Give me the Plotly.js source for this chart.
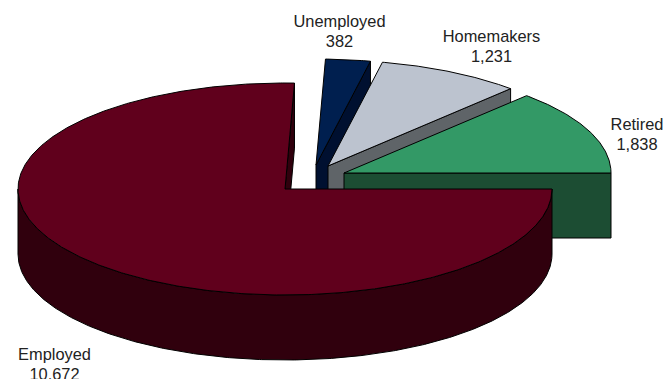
<!DOCTYPE html>
<html>
<head>
<meta charset="utf-8">
<script src="https://cdn.plot.ly/plotly-3.0.1.min.js"></script>
<style>html,body{margin:0;padding:0;background:#fff;overflow:hidden}</style>
</head>
<body>
<div id="chart" style="width:664px;height:379px"></div>
<script>
// Population by status
const categories = ["Employed", "Unemployed", "Homemakers", "Retired"];
const values = [10672, 382, 1231, 1838];
const topColors = ["#60001c", "#001f4f", "#bcc3cf", "#339966"];
const sideColors = ["#30000d", "#001030", "#5f6468", "#1c4d33"];

// Projection of the tilted disc, in plot units
const centre = {x: 285, y: 189};
const radiusX = 267, radiusY = 106, depth = 65;
const startAngle = 90;
// Explode offset of each slice
const pullX = [0, 31, 43, 59];
const pullY = [0, -24, -23, -16];
// Label anchors: name line then value line
const labelX = [54.5, 339.5, 491.5, 637];
const labelY = [355.5, 23, 38, 126];
const labelGap = 20;

const total = values.reduce((a, b) => a + b, 0);
const rad = d => d * Math.PI / 180;
const rim = (c, a, drop) => [c.x + radiusX * Math.sin(rad(a)), c.y - radiusY * Math.cos(rad(a)) + drop];
const arc = (c, a0, a1, drop) => {
  const n = Math.max(2, Math.ceil(Math.abs(a1 - a0) * 2));
  const pts = [];
  for (let i = 0; i <= n; i++) pts.push(rim(c, a0 + (a1 - a0) * i / n, drop));
  return pts;
};
const poly = (pts, color) => ({
  type: "scatter", mode: "lines", fill: "toself", fillcolor: color,
  x: pts.map(p => p[0]).concat(pts[0][0]),
  y: pts.map(p => p[1]).concat(pts[0][1]),
  line: {color: "#000", width: 1, shape: "linear"},
  hoverinfo: "skip", showlegend: false
});

// Work out each slice's angular span from its share of the total
let cursor = startAngle;
const slices = values.map((v, i) => {
  const a0 = cursor, a1 = cursor + v / total * 360;
  cursor = a1;
  return {i, a0, a1, c: {x: centre.x + pullX[i], y: centre.y + pullY[i]}};
});

// Painted back to front: the large slice overlaps the others
const traces = [];
[1, 2, 3, 0].forEach(k => {
  const s = slices[k];
  const apex = [s.c.x, s.c.y];
  const outer = rim(s.c, s.a1, 0);
  // Cut face at the end of the slice
  traces.push(poly([apex, outer, [outer[0], outer[1] + depth], [apex[0], apex[1] + depth]], sideColors[k]));
  // Outer wall, only where it faces the viewer
  const w0 = Math.max(s.a0, 90), w1 = Math.min(s.a1, 270);
  if (w1 > w0) {
    traces.push(poly(arc(s.c, w0, w1, 0).concat(arc(s.c, w1, w0, depth)), sideColors[k]));
  }
  // Top face
  traces.push(poly([apex].concat(arc(s.c, s.a0, s.a1, 0)), topColors[k]));
});

// Labels
const fmt = v => v.toLocaleString("en-US");
traces.push({
  type: "scatter", mode: "text",
  x: labelX.concat(labelX),
  y: labelY.concat(labelY.map(y => y + labelGap)),
  text: categories.concat(values.map(fmt)),
  textposition: "middle center",
  textfont: {family: "Liberation Sans, Arial, sans-serif", size: 16.4, color: "#222"},
  cliponaxis: false, hoverinfo: "skip", showlegend: false
});

const layout = {
  width: 664, height: 379,
  margin: {l: 0, r: 0, t: 0, b: 0},
  paper_bgcolor: "#fff", plot_bgcolor: "#fff",
  xaxis: {range: [0, 664], visible: false, fixedrange: true},
  yaxis: {range: [379, 0], visible: false, fixedrange: true},
  showlegend: false
};
Plotly.newPlot("chart", traces, layout, {displayModeBar: false, staticPlot: true});
</script>
</body>
</html>
